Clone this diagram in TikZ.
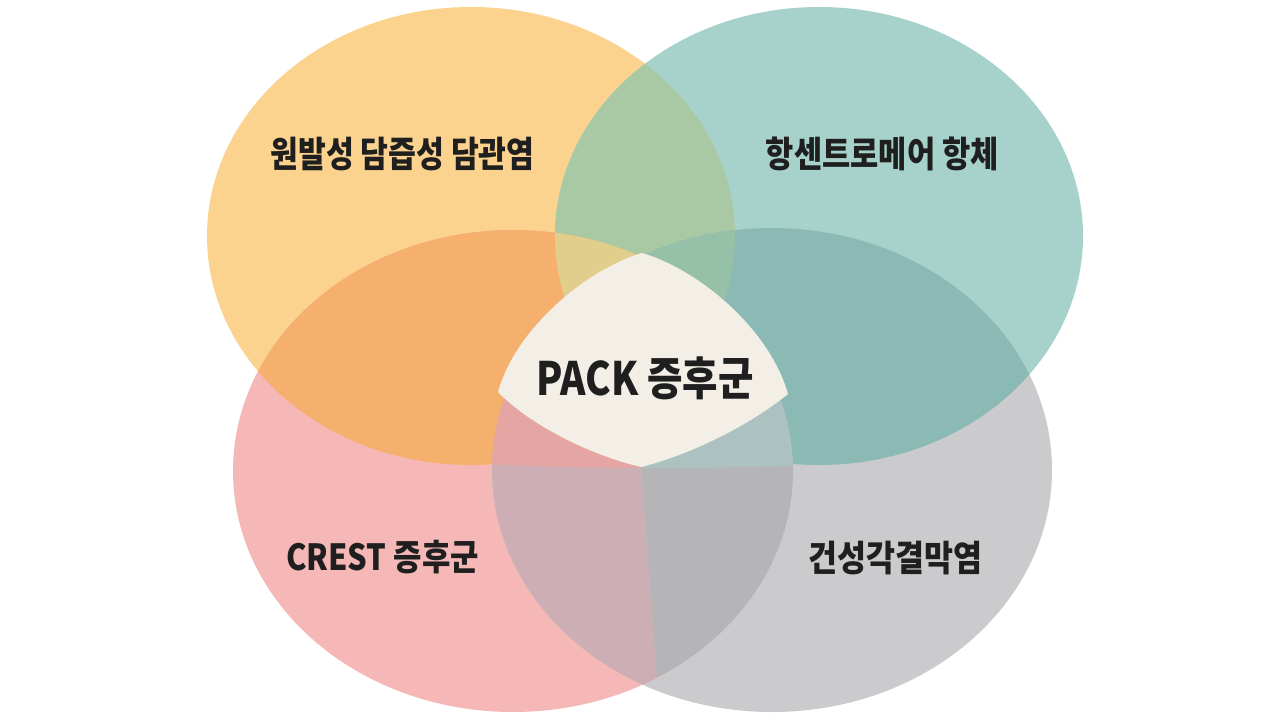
\documentclass[tikz,border=0pt]{standalone}
\usepackage{fontspec}
\setmainfont{Noto Sans CJK KR}
\definecolor{cO}{HTML}{FCD38E}
\definecolor{cT}{HTML}{A7D2CC}
\definecolor{cP}{HTML}{F5B8B6}
\definecolor{cG}{HTML}{CBCBCD}
\definecolor{cOT}{HTML}{A8C9A3}
\definecolor{cOP}{HTML}{F5B06E}
\definecolor{cTG}{HTML}{8BB9B4}
\definecolor{cPGl}{HTML}{CDAEB4}
\definecolor{cPGr}{HTML}{B5B5B7}
\definecolor{cOTP}{HTML}{E2CE8C}
\definecolor{cOTG}{HTML}{96C0A8}
\definecolor{cBandL}{HTML}{E5A6A3}
\definecolor{cBandR}{HTML}{ACC2C1}
\definecolor{cCream}{HTML}{F4EFE6}
\definecolor{ink}{HTML}{1F1F1F}
\def\Opath{(471,236) ellipse [x radius=264pt, y radius=229pt]}
\def\Tpath{(819,236) ellipse [x radius=264pt, y radius=229pt]}
\def\Ppath{(513,471) ellipse [x radius=280pt, y radius=241pt]}
\def\Gpath{(772,470) ellipse [x radius=280pt, y radius=242pt]}
\def\Lside{(0,0) -- (641,0) -- (641,467) -- (656,668) -- (662,720) -- (0,720) -- cycle}
\def\Rside{(1280,0) -- (641,0) -- (641,467) -- (656,668) -- (662,720) -- (1280,720) -- cycle}
\def\Band{(470,370) -- (470,463) .. controls (560,469) and (720,469) .. (810,465) -- (810,370) -- cycle}
\tikzset{
  lab/.style={text=ink, font=\bfseries\fontsize{36}{42}\selectfont, inner sep=0pt, anchor=base},
  biglab/.style={text=ink, font=\bfseries\fontsize{46}{52}\selectfont, inner sep=0pt, anchor=base}
}
\begin{document}
\begin{tikzpicture}[x=1pt,y=-1pt]
\useasboundingbox (0,0) rectangle (1280,720);
\fill[white] (0,0) rectangle (1280,720);
% single sets
\fill[cO] \Opath;
\fill[cT] \Tpath;
\fill[cP] \Ppath;
\fill[cG] \Gpath;
% pairwise overlaps
\begin{scope}\clip \Opath; \fill[cOT] \Tpath; \end{scope}
\begin{scope}\clip \Opath; \fill[cOP] \Ppath; \end{scope}
\begin{scope}\clip \Tpath; \fill[cTG] \Gpath; \end{scope}
\begin{scope}\clip \Ppath; \clip \Lside; \fill[cPGl] \Gpath; \end{scope}
\begin{scope}\clip \Ppath; \clip \Rside; \fill[cPGr] \Gpath; \end{scope}
% triple overlaps
\begin{scope}\clip \Opath; \clip \Tpath; \fill[cOTP] \Ppath; \end{scope}
\begin{scope}\clip \Opath; \clip \Tpath; \fill[cOTG] \Gpath; \end{scope}
% band under the centre
\begin{scope}\clip \Ppath; \clip \Gpath; \clip \Lside; \fill[cBandL] \Band; \end{scope}
\begin{scope}\clip \Ppath; \clip \Gpath; \clip \Rside; \fill[cBandR] \Band; \end{scope}
% centre
\fill[cCream] (498,392) .. controls (515,330) and (585,270) .. (642,253)
  .. controls (700,270) and (770,330) .. (788,394)
  .. controls (750,425) and (690,455) .. (641,467)
  .. controls (590,455) and (530,425) .. (498,392) -- cycle;
% labels
\node[lab] (pbc) at (402.5,167) {\scalebox{0.84}[1]{원발성 담즙성 담관염}};
\node[lab] (aca) at (882.5,167) {\scalebox{0.853}[1]{항센트로메어 항체}};
\node[lab] (crest) at (382.5,570) {\scalebox{0.857}[1]{CREST 증후군}};
\node[lab] (kcs) at (895.5,571) {\scalebox{0.875}[1]{건성각결막염}};
\node[biglab] (pack) at (645,395) {\scalebox{0.837}[1]{PACK 증후군}};
\end{tikzpicture}
\end{document}
